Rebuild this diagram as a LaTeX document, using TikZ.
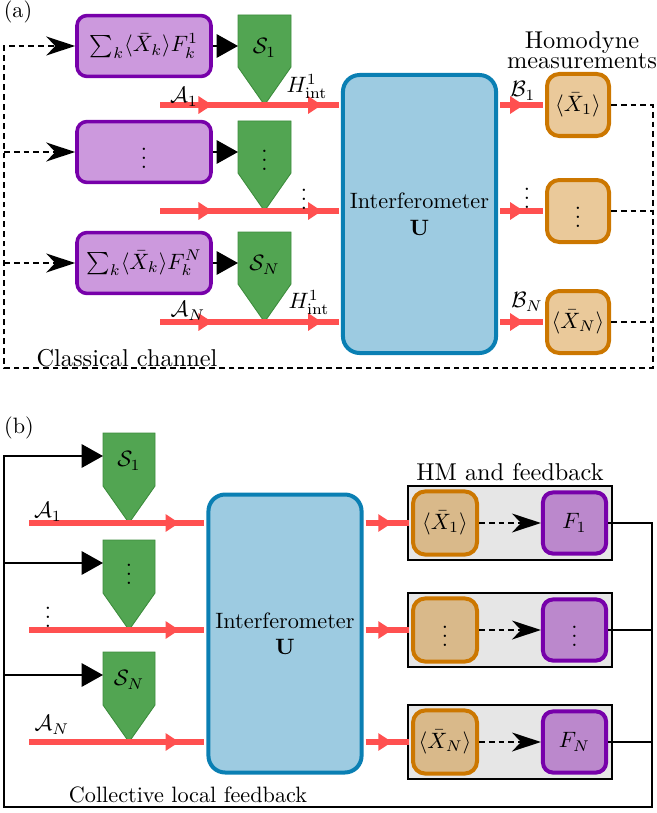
\documentclass[tikz,border=0pt]{standalone}
\usepackage{amsmath}
\usepackage{amssymb}
\usetikzlibrary{positioning,arrows.meta,decorations.markings}

\definecolor{fbfill}{HTML}{CC99DD}
\definecolor{fbfilld}{HTML}{BB88CC}
\definecolor{fbline}{HTML}{7700AA}
\definecolor{sqfill}{HTML}{52A552}
\definecolor{sqline}{HTML}{3C8C3C}
\definecolor{beamred}{HTML}{FF5050}
\definecolor{intfill}{HTML}{9DCBE1}
\definecolor{intline}{HTML}{0A7FB3}
\definecolor{hmfill}{HTML}{EAC99A}
\definecolor{hmfilld}{HTML}{D9B98A}
\definecolor{hmline}{HTML}{CC7700}
\definecolor{hmgray}{HTML}{E6E6E6}

\begin{document}
\begin{tikzpicture}[x=0.45pt, y=-0.45pt,
		fbbox/.style={draw=fbline, fill=fbfill, line width=1.6pt, rounded corners=4.5pt,
			minimum width=60.3pt, minimum height=27.4pt, inner sep=0pt},
		hmbox/.style={draw=hmline, fill=hmfill, line width=1.8pt, rounded corners=5.5pt,
			minimum width=27.9pt, minimum height=27.9pt, inner sep=0pt},
		intbox/.style={draw=intline, fill=intfill, line width=1.8pt, rounded corners=7.5pt,
			minimum width=68.9pt, minimum height=125.1pt, align=center, inner sep=0pt},
		hmpanel/.style={draw=black, fill=hmgray, line width=0.6pt,
			minimum width=91.8pt, minimum height=33.3pt, inner sep=0pt},
		sqzr/.style={draw=sqline, fill=sqfill, line width=0.4pt},
		beam/.style={draw=beamred, line width=2.8pt},
		beamarrow/.style={beam, postaction={decorate}, decoration={markings,
				mark=at position #1 with {\arrow[beamred]{Triangle[length=6.2pt,width=7.6pt]}}}},
		feed/.style={draw=black, line width=0.9pt, -{Triangle[length=9.6pt,width=10.5pt]}},
		classical/.style={draw=black, line width=0.7pt, dash pattern=on 2.6pt off 1.8pt},
		classicalarrow/.style={classical, -{Stealth[length=13pt,width=8.5pt,inset=4pt]}},
		lbl/.style={inner sep=1pt},
		bigtext/.style={font=\fontsize{10.95}{9}\selectfont, align=center}]
	
	\useasboundingbox (0,0) rectangle (657,813);
	
	% ---------------- (a) ----------------
	\node[lbl] (labA) at (18,12) {(a)};
	
	% Blocchi di feedback classico
	\node[fbbox] (fA1) at (144,46) {$\sum_k \langle \bar{X}_k \rangle F_k^1$};
	\node[fbbox] (fA2) at (144,152) {$\vdots$};
	\node[fbbox] (fAN) at (144,263) {$\sum_k \langle \bar{X}_k \rangle F_k^N$};
	
	% Squeezer (pentagoni verdi)
	\foreach \r/\n/\t in {46/s1/$\mathcal{S}_1$, 152/s2/$\vdots$, 263/sN/$\mathcal{S}_N$} {
		\filldraw[sqzr] (238,\r-31) -- (291,\r-31) -- (291,\r+21) -- (264.5,\r+59) -- (238,\r+21) -- cycle;
		\node (\n) at (264.5,\r+2) {\t};
		\coordinate (in-\n) at (238,\r);
		\coordinate (tip-\n) at (264.5,\r+59);
		\coordinate (src-\n) at (160,\r+59);
	}
	
	% Frecce verso gli squeezer
	\draw[feed] (fA1.east) -- (in-s1);
	\draw[feed] (fA2.east) -- (in-s2);
	\draw[feed] (fAN.east) -- (in-sN);
	
	% Interferometro
	\node[intbox] (int) at (419.5,214) {Interferometer\\$\mathbf{U}$};
	
	% Fasci in ingresso
	\foreach \n in {s1, s2, sN} {
		\draw[beamarrow=0.5] (src-\n) -- (tip-\n);
		\draw[beamarrow=0.75, shorten >=0.9pt] (tip-\n) -- (int.west |- tip-\n);
	}
	
	% Misure omodine
	\foreach \n/\y/\t in {hm1/105/$\langle \bar{X}_1 \rangle$, hm2/211/$\vdots$, hmN/322/$\langle \bar{X}_N \rangle$} {
		\node[hmbox] (\n) at (578,\y) {\t};
		\draw[beamarrow=0.55, shorten <=0.9pt, shorten >=0.9pt] (int.east |- \n) -- (\n.west);
	}
	
	% Etichette
	\node[lbl] (lA1) at (184,97) {$\mathcal{A}_1$};
	\node[lbl] (lAN) at (188,311) {$\mathcal{A}_N$};
	\node[lbl] (lH1) at (307,86) {$H_{\mathrm{int}}^1$};
	\node[lbl] (lHN) at (309,302) {$H_{\mathrm{int}}^1$};
	\node[lbl] (lvA) at (304,193) {$\vdots$};
	\node[lbl] (lB1) at (523,91) {$\mathcal{B}_1$};
	\node[lbl] (lBN) at (527,302) {$\mathcal{B}_N$};
	\node[lbl] (lvB) at (527,192) {$\vdots$};
	\node[lbl, bigtext] (lHom) at (582,50) {Homodyne\\measurements};
	
	% Canale classico
	\coordinate (cr) at (653,368);
	\coordinate (cl) at (4,368);
	\draw[classicalarrow] (hm1.east) -| (cr) -- (cl) |- (fA1.west);
	\draw[classicalarrow] (cl |- fA2) -- (fA2.west);
	\draw[classicalarrow] (cl |- fAN) -- (fAN.west);
	\draw[classical] (hm2.east) -- (cr |- hm2);
	\draw[classical] (hmN.east) -- (cr |- hmN);
	\node[lbl, bigtext] (lCl) at (127,358) {Classical channel};
	
	% ---------------- (b) ----------------
	\node[lbl] (labB) at (19,428) {(b)};
	
	% Squeezer locali
	\foreach \y/\n/\t in {523/t1/$\mathcal{S}_1$, 630/t2/$\vdots$, 742/tN/$\mathcal{S}_N$} {
		\filldraw[sqzr] (103,\y-90) -- (155,\y-90) -- (155,\y-37) -- (129,\y) -- (103,\y-37) -- cycle;
		\node (\n) at (129,\y-62) {\t};
		\coordinate (in-\n) at (103,\y-67);
		\coordinate (tip-\n) at (129,\y);
		\coordinate (src-\n) at (29,\y);
	}
	
	% Interferometro
	\node[intbox] (intB) at (285,633.5) {Interferometer\\$\mathbf{U}$};
	
	\foreach \n in {t1, t2, tN} {
		\draw[beam] (src-\n) -- (tip-\n);
		\draw[beamarrow=0.65, shorten >=0.9pt] (tip-\n) -- (intB.west |- tip-\n);
	}
	
	% Misura omodina e feedback
	\foreach \y/\n/\t/\f in {523/1/$\langle \bar{X}_1 \rangle$/$F_1$, 630/2/$\vdots$/$\vdots$, 742/N/$\langle \bar{X}_N \rangle$/$F_N$} {
		\node[hmpanel] (panel\n) at (510,\y) {};
		\node[hmbox, fill=hmfilld, minimum width=28.8pt, minimum height=28.4pt] (hmB\n) at (445,\y) {\t};
		\node[fbbox, fill=fbfilld, line width=1.8pt, minimum width=28.4pt, minimum height=27.5pt] (F\n) at (574.5,\y) {\f};
		\draw[beamarrow=0.6, shorten <=0.9pt, shorten >=0.9pt] (intB.east |- hmB\n) -- (hmB\n.west);
		\draw[classicalarrow] (hmB\n) -- (F\n);
	}
	
	% Etichette
	\node[lbl] (lA1b) at (48,512) {$\mathcal{A}_1$};
	\node[lbl] (lANb) at (52,725) {$\mathcal{A}_N$};
	\node[lbl] (lvC) at (48,611) {$\vdots$};
	\node[lbl, bigtext] (lHM) at (510,472) {HM and feedback};
	
	% Feedback locale collettivo
	\coordinate (fr) at (652,807);
	\coordinate (fl) at (4,807);
	\draw[feed] (F1.east) -| (fr) -- (fl) |- (in-t1);
	\draw[feed] (fl |- in-t2) -- (in-t2);
	\draw[feed] (fl |- in-tN) -- (in-tN);
	\draw[line width=0.9pt] (F2.east) -- (fr |- F2);
	\draw[line width=0.9pt] (FN.east) -- (fr |- FN);
	\node[lbl] (lCol) at (188,795) {Collective local feedback};
	
\end{tikzpicture}
\end{document}
